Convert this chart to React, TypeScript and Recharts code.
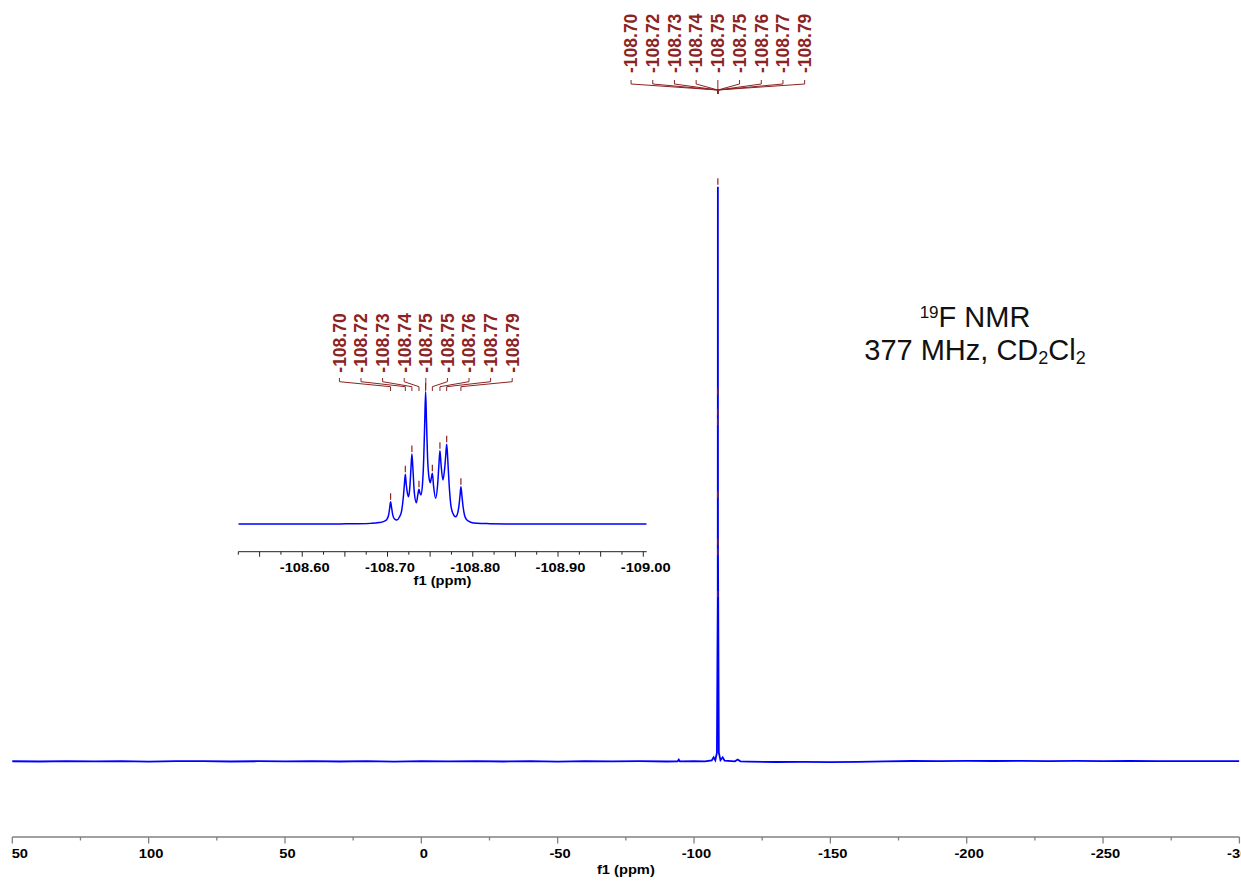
import React from 'react';
import * as R from 'recharts';

const { ComposedChart, Line, XAxis, YAxis, Scatter } = R as any;
const RAny: any = R;

// ---------- DATA ----------
// main spectrum (ppm, intensity; main peak = 100)
const mainPpm = [151, 140, 130, 120, 110, 100, 90, 80, 70, 60, 50, 40, 30, 20, 10, 0, -10, -20, -30, -40, -50, -60, -70, -80, -90, -94, -94.4, -94.8, -100, -104, -106.5, -107.2, -107.8, -108.4, -108.7, -108.745, -108.77, -108.79, -109.1, -109.7, -110.5, -111.2, -115, -116, -117, -120, -130, -140, -150, -160, -170, -180, -190, -200, -210, -220, -230, -240, -250, -260, -270, -280, -290, -300];
const mainVal = [0.02, -0.03, 0.04, -0.02, 0.03, -0.04, 0.02, 0.05, -0.03, 0.02, -0.02, 0.04, -0.03, 0.02, -0.04, 0.03, -0.02, 0.04, -0.03, 0.02, -0.04, 0.03, -0.02, 0.02, -0.03, 0, 0.3, 0, 0.02, -0.02, 0.15, 0.7, 0.2, 1.5, 28.2, 100, 63.4, 37.3, 1.5, 0.2, 0.7, 0.1, 0, 0.3, 0, -0.05, -0.12, -0.1, -0.14, -0.08, -0.02, 0.06, 0.05, 0.08, 0.06, 0.07, 0.05, 0.07, 0.04, 0.06, 0.05, 0.03, 0.05, 0.04];

// individual peaks of the multiplet
const peakPpm = [-108.7036, -108.7209, -108.7286, -108.7369, -108.7447, -108.7526, -108.7615, -108.7694, -108.7861];
const peakLabels = ['-108.70', '-108.72', '-108.73', '-108.74', '-108.75', '-108.75', '-108.76', '-108.77', '-108.79'];
const peakMainHeight = [28.2, 45.5, 58.2, 35.5, 100, 45.5, 59.9, 63.4, 37.3];
const peakInsetHeight = [17.0, 37.7, 53.0, 26.4, 100, 38.5, 55.5, 60.3, 28.4];

// inset spectrum (expanded multiplet)
const insetPpm = [-108.525, -108.545, -108.565, -108.585, -108.605, -108.625, -108.645, -108.665, -108.68, -108.69, -108.695, -108.699, -108.7013, -108.7025, -108.7036, -108.7048, -108.706, -108.708, -108.711, -108.714, -108.7165, -108.7185, -108.7198, -108.7209, -108.722, -108.7235, -108.7248, -108.7262, -108.7275, -108.7286, -108.7298, -108.7313, -108.7338, -108.7355, -108.7369, -108.7381, -108.7392, -108.741, -108.7425, -108.7437, -108.7447, -108.7457, -108.747, -108.7487, -108.7502, -108.7514, -108.7526, -108.754, -108.7565, -108.7588, -108.7603, -108.7615, -108.7627, -108.765, -108.767, -108.7683, -108.7694, -108.7706, -108.772, -108.774, -108.7765, -108.7799, -108.7825, -108.784, -108.7851, -108.7861, -108.7872, -108.7885, -108.7905, -108.7935, -108.7975, -108.805, -108.82, -108.84, -108.87, -108.9, -108.93, -108.96, -108.99, -109.004];
const insetVal = [0.3, 0.2, 0.3, 0.2, 0.3, 0.2, 0.3, 0.4, 0.7, 1.3, 2.0, 3.5, 7, 12, 17, 12.5, 7.5, 4.2, 3.2, 5.5, 10, 20, 30, 37.7, 30, 23, 20.8, 28, 42, 53, 42, 25, 16.3, 22, 26.4, 23.5, 22.1, 30, 50, 78, 100, 78, 50, 35, 31.4, 35, 38.5, 29, 19.6, 30, 45, 55.5, 46, 33.4, 42, 52, 60.3, 50, 33, 16, 8.5, 5.7, 9, 15, 22, 28.4, 22, 14, 6.5, 3, 1.6, 0.8, 0.5, 0.3, 0.2, 0.3, 0.2, 0.3, 0.2, 0.3];

// axis ticks
const mainTicks = [150, 125, 100, 75, 50, 25, 0, -25, -50, -75, -100, -125, -150, -175, -200, -225, -250, -275, -300];
const insetTicks = [-108.525, -108.55, -108.575, -108.6, -108.625, -108.65, -108.675, -108.7, -108.725, -108.75, -108.775, -108.8, -108.825, -108.85, -108.875, -108.9, -108.925, -108.95, -108.975, -109.0];

// ---------- derived tables ----------
const mainData = mainPpm.map((p, i) => ({ ppm: p, v: mainVal[i] }));
const insetData = insetPpm.map((p, i) => ({ ppm: p, v: insetVal[i] }));
const mainMarkers = peakPpm.map((p, i) => ({ ppm: p, v: peakMainHeight[i] }));
const insetMarkers = peakPpm.map((p, i) => ({ ppm: p, v: peakInsetHeight[i] }));

const RED = '#8B2323';
const BLUE = '#0000FF';
const ARIAL = '"Liberation Sans", Arial, sans-serif';
const STRETCH = 1.13;

const MAIN_DOMAIN: [number, number] = [-300, 150];
const INSET_DOMAIN: [number, number] = [-109.004, -108.525];

function usePlotBox(fallback: any) {
  let box: any = null;
  if (RAny.usePlotArea) box = RAny.usePlotArea();
  if (box && typeof box.x === 'number' && typeof box.width === 'number' && box.width > 0) return box;
  return fallback;
}

// bold, slightly widened axis text
const WideText = ({ x, y, anchor, size, children }: any) => (
  <text
    transform={`translate(${x},${y}) scale(${STRETCH},1)`}
    x={0}
    y={0}
    textAnchor={anchor}
    fontFamily={ARIAL}
    fontWeight="bold"
    fontSize={size}
    fill="#000"
  >
    {children}
  </text>
);

function PeakLabels(props: any) {
  const { domain, fallback, g } = props;
  const box = usePlotBox(fallback);
  const [dMin, dMax] = domain;
  const sx = (v: number) => box.x + ((dMax - v) / (dMax - dMin)) * box.width;
  const px = peakPpm.map(sx);
  const center = px.reduce((a, b) => a + b, 0) / px.length;
  const n = peakLabels.length;
  return (
    <g>
      {peakLabels.map((lab, i) => {
        const lx = center + (i - (n - 1) / 2) * g.spacing;
        return (
          <g key={i}>
            <text
              transform={`translate(${lx},${g.textBottom}) rotate(-90)`}
              x={0}
              y={0}
              dy="0.36em"
              textAnchor="start"
              fontFamily={ARIAL}
              fontWeight="bold"
              fontSize={g.fontSize}
              fill={RED}
            >
              {lab}
            </text>
            <polyline
              points={`${lx},${g.tickTop} ${lx},${g.tickBot} ${px[i]},${g.joinY} ${px[i]},${g.endY}`}
              fill="none"
              stroke={RED}
              strokeWidth={1}
            />
          </g>
        );
      })}
    </g>
  );
}

function MainOverlay() {
  const box = usePlotBox({ x: 12.3, y: 0, width: 1227.1, height: 837 });
  const cx = box.x + box.width / 2;
  return (
    <g>
      <WideText x={cx} y={874} anchor="middle" size={13}>f1 (ppm)</WideText>
      <text x={975} y={327} textAnchor="middle" fontFamily={ARIAL} fontSize={29} fill="#111">
        <tspan fontSize={17} dy={-9}>19</tspan>
        <tspan dy={9}>F NMR</tspan>
      </text>
      <text x={975} y={360} textAnchor="middle" fontFamily={ARIAL} fontSize={29} fill="#111">
        <tspan>377 MHz, CD</tspan>
        <tspan fontSize={18} dy={4}>2</tspan>
        <tspan dy={-4}>Cl</tspan>
        <tspan fontSize={18} dy={4}>2</tspan>
      </text>
    </g>
  );
}

function InsetOverlay() {
  const box = usePlotBox({ x: 38.3, y: 0, width: 408.4, height: 271.7 });
  const cx = box.x + box.width / 2;
  return <WideText x={cx} y={304.5} anchor="middle" size={13}>f1 (ppm)</WideText>;
}

const MainTick = (p: any) => {
  const { x, y, payload } = p;
  const v = payload.value;
  const major = v % 50 === 0;
  let label: any = null;
  if (major) {
    label =
      v === 150 ? (
        <WideText x={x - 0.6} y={y + 20.7} anchor="start" size={13}>50</WideText>
      ) : (
        <WideText x={x + 2.4} y={y + 20.7} anchor="middle" size={13}>{String(v)}</WideText>
      );
  }
  return (
    <g>
      <line x1={x} x2={x} y1={y} y2={y + (major ? 6.5 : 3.5)} stroke="#808080" strokeWidth={1.3} />
      {label}
    </g>
  );
};

const InsetTick = (p: any) => {
  const { x, y, payload } = p;
  const v = payload.value;
  const m = Math.round(Math.abs(v) * 1000);
  const long = m % 50 === 0;
  const lab = m % 100 === 0;
  return (
    <g>
      <line x1={x} x2={x} y1={y} y2={y + (long ? 5 : 3)} stroke="#222" strokeWidth={1} />
      {lab && <WideText x={x + 2.4} y={y + 20} anchor="middle" size={13}>{v.toFixed(2)}</WideText>}
    </g>
  );
};

const MarkerShape = (p: any) => {
  const { cx, cy } = p;
  if (typeof cx !== 'number' || typeof cy !== 'number') return <g />;
  return <line x1={cx} x2={cx} y1={cy - 8.5} y2={cy - 2} stroke={RED} strokeWidth={1.2} />;
};

export default function App() {
  return (
    <div style={{ position: 'absolute', left: 0, top: 0, width: 1241, height: 881, overflow: 'hidden', background: '#fff' }}>
      <div style={{ position: 'absolute', left: 0, top: 0 }}>
        <ComposedChart width={1262} height={881} margin={{ top: 0, right: 22.6, left: 12.3, bottom: 0 }}>
          <XAxis
            type="number"
            dataKey="ppm"
            domain={MAIN_DOMAIN}
            reversed
            allowDataOverflow
            ticks={mainTicks}
            interval={0}
            tickSize={0}
            tickMargin={0}
            tickLine={false}
            tick={(p: any) => <MainTick {...p} />}
            height={44}
            axisLine={{ stroke: '#808080', strokeWidth: 1.5 }}
          />
          <YAxis type="number" dataKey="v" domain={[-13.17, 132.5]} hide allowDataOverflow />
          <Line data={mainData} dataKey="v" type="linear" stroke={BLUE} strokeWidth={1.8} dot={false} activeDot={false} isAnimationActive={false} />
          <Scatter data={mainMarkers} dataKey="v" shape={(p: any) => <MarkerShape {...p} />} isAnimationActive={false} />
          <PeakLabels
            domain={MAIN_DOMAIN}
            fallback={{ x: 12.3, y: 0, width: 1227.1, height: 837 }}
            g={{ spacing: 21.7, textBottom: 73, tickTop: 80, tickBot: 84, joinY: 90, endY: 94, fontSize: 17.5 }}
          />
          <MainOverlay />
        </ComposedChart>
      </div>
      <div style={{ position: 'absolute', left: 200, top: 280 }}>
        <ComposedChart width={480} height={320} margin={{ top: 0, right: 33.3, left: 38.3, bottom: 8.3 }}>
          <XAxis
            type="number"
            dataKey="ppm"
            domain={INSET_DOMAIN}
            reversed
            allowDataOverflow
            ticks={insetTicks}
            interval={0}
            tickSize={0}
            tickMargin={0}
            tickLine={false}
            tick={(p: any) => <InsetTick {...p} />}
            height={40}
            axisLine={{ stroke: '#222', strokeWidth: 1 }}
          />
          <YAxis type="number" dataKey="v" domain={[-20.66, 184.24]} hide allowDataOverflow />
          <Line data={insetData} dataKey="v" type="monotone" stroke={BLUE} strokeWidth={1.5} dot={false} activeDot={false} isAnimationActive={false} />
          <Scatter data={insetMarkers} dataKey="v" shape={(p: any) => <MarkerShape {...p} />} isAnimationActive={false} />
          <PeakLabels
            domain={INSET_DOMAIN}
            fallback={{ x: 38.3, y: 0, width: 408.4, height: 271.7 }}
            g={{ spacing: 21.6, textBottom: 92.7, tickTop: 98, tickBot: 101.7, joinY: 106.7, endY: 111, fontSize: 17.5 }}
          />
          <InsetOverlay />
        </ComposedChart>
      </div>
    </div>
  );
}
